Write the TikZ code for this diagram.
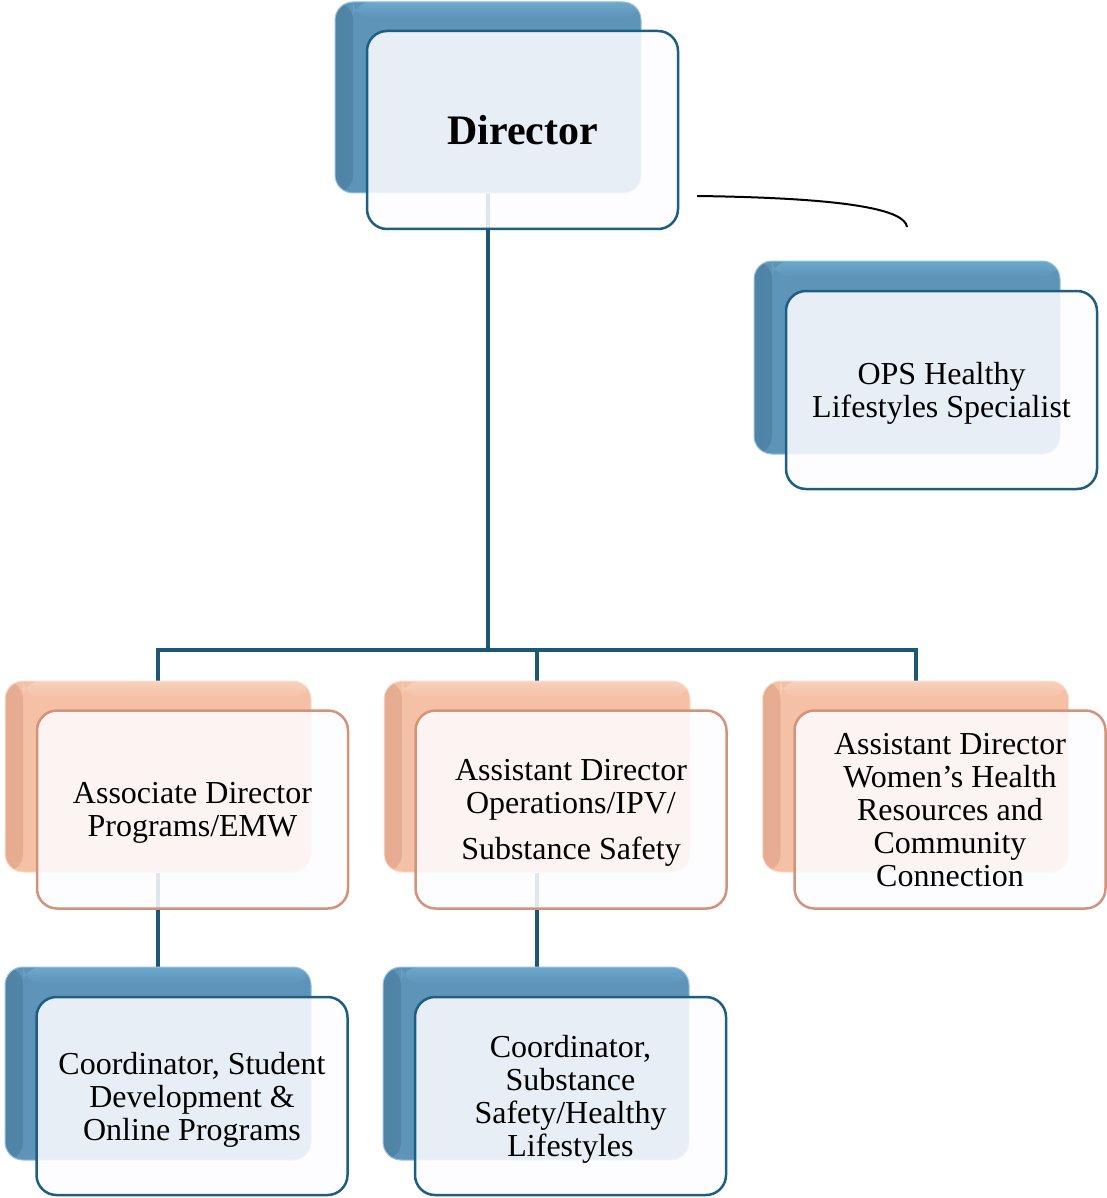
\documentclass[tikz,border=0pt]{standalone}
\usepackage{fontspec}
\setmainfont{Liberation Serif}
\definecolor{bluemid}{HTML}{5E94B8}
\definecolor{bluedark}{HTML}{4F84A6}
\definecolor{bluelight}{HTML}{6CA8CD}
\definecolor{orangemid}{HTML}{F4C1A7}
\definecolor{orangedark}{HTML}{E6AC91}
\definecolor{orangelight}{HTML}{F9D1BC}
\definecolor{frontblue}{HTML}{1D5E82}
\definecolor{frontorange}{HTML}{D3937A}
\definecolor{frontfill}{HTML}{FDFCFF}
\definecolor{connblue}{HTML}{1B5876}
\pgfdeclarelayer{bg}
\pgfsetlayers{bg,main}
\tikzset{
  backbox/.style n args={3}{rounded corners=18pt, minimum width=306pt, inner sep=0pt, line width=1pt,
     fill=#1, draw=#3!70,
     path picture={
       \shade[left color=#2, right color=#1]
         (path picture bounding box.north west) rectangle ([xshift=18pt]path picture bounding box.south west);
       \shade[top color=#3, bottom color=#1]
         ([xshift=18pt]path picture bounding box.north west) rectangle ([yshift=-16pt]path picture bounding box.north east);
     }},
  bback/.style={backbox={bluemid}{bluedark}{bluelight}},
  oback/.style={backbox={orangemid}{orangedark}{orangelight}},
  frontbox/.style={rounded corners=20pt, minimum width=311pt, minimum height=198pt, inner sep=0pt,
     line width=2.5pt, fill=frontfill, fill opacity=0.87, text opacity=1, align=center,
     text depth=0pt, font=\fontsize{32}{33}\selectfont},
  bfront/.style={frontbox, draw=frontblue},
  ofront/.style={frontbox, draw=frontorange},
  conn/.style={draw=connblue, line width=4pt},
  bracket/.style={draw=black, line width=2pt}
}
\begin{document}
\begin{tikzpicture}[x=1pt,y=-1pt]
\useasboundingbox (0,0) rectangle (1107,1198);
% back boxes
\path
  (488,97.5)    node[bback, minimum height=191pt] (dirB) {}
  (907,357.5)   node[bback, minimum height=193pt] (opsHB) {}
  (158,776.5)   node[oback, minimum height=191pt] (assocB) {}
  (537,776.5)   node[oback, minimum height=191pt] (opsB) {}
  (915.5,776.5) node[oback, minimum height=191pt] (womenB) {}
  (158,1063.5)  node[bback, minimum height=193pt] (csB) {}
  (536,1063.5)  node[bback, minimum height=193pt] (cssB) {};
% front boxes
\node[bfront, font=\fontsize{42}{44}\selectfont\bfseries] (dir) at (522.5,130) {Director};
\node[bfront] (opsH) at (941.5,390) {OPS Healthy\\Lifestyles Specialist};
\node[ofront] (assoc) at (192.5,809.5) {Associate Director\\Programs/EMW};
\node[ofront] (ops) at (571,809.5) {Assistant Director\\Operations/IPV/\\[13pt]Substance Safety};
\node[ofront] (women) at (950,809.5) {Assistant Director\\Women’s Health\\Resources and\\Community\\Connection};
\node[bfront] (cs) at (192,1096) {Coordinator, Student\\Development \&\\Online Programs};
\node[bfront] (css) at (570.5,1096) {Coordinator,\\Substance\\Safety/Healthy\\Lifestyles};
% connectors
\coordinate (bar) at (0,650);
\coordinate (brA) at (697,196);
\coordinate (brB) at (907,227);
\begin{pgfonlayer}{bg}
  \draw[conn] (dirB.south) -- (dirB.south |- bar) -| (assocB.north);
  \draw[conn] (dirB.south |- bar) -| (opsB.north);
  \draw[conn] (dirB.south |- bar) -| (womenB.north);
  \draw[conn] (assocB.south) -- (csB.north);
  \draw[conn] (opsB.south) -- (opsB.south |- cssB.north);
\end{pgfonlayer}
\draw[bracket] (brA) .. controls (850,198) and (905,210) .. (brB);
\end{tikzpicture}
\end{document}
